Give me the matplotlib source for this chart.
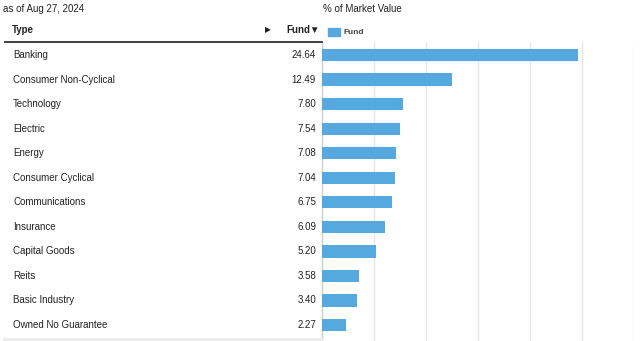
#!/usr/bin/env python3
"""Sector breakdown: % of market value by type"""

import matplotlib
matplotlib.use('Agg')
import matplotlib.pyplot as plt
import matplotlib.transforms as mtransforms
from matplotlib.patches import Rectangle
from matplotlib.lines import Line2D

plt.rcParams['font.family'] = ['Liberation Sans', 'DejaVu Sans']

types = ['Banking', 'Consumer Non-Cyclical', 'Technology', 'Electric', 'Energy',
         'Consumer Cyclical', 'Communications', 'Insurance', 'Capital Goods',
         'Reits', 'Basic Industry', 'Owned No Guarantee']
fund = [24.64, 12.49, 7.80, 7.54, 7.08, 7.04, 6.75, 6.09, 5.20, 3.58, 3.40, 2.27]
x_ticks = [0, 5, 10, 15, 20, 25, 30]

BAR = '#56a9de'
TXT = '#222222'

W, H = 640, 341
fig = plt.figure(figsize=(W / 100, H / 100), dpi=100)


def fx(px):
    return px / W


def fy(py):
    return 1 - py / H


ax = fig.add_axes([fx(322), 0, fx(634) - fx(322), fy(42)])
pos = list(range(len(types)))
ax.barh(pos, fund, height=0.5, color=BAR, zorder=3)
ax.set_xlim(0, 30)
ax.set_ylim(11.65, -0.53)
ax.set_xticks(x_ticks)
ax.set_yticks([])
ax.tick_params(axis='x', length=0, labelbottom=False)
ax.grid(axis='x', color='#e6e6e6', linewidth=1, zorder=0)
for s in ['top', 'right', 'bottom']:
    ax.spines[s].set_visible(False)
ax.spines['left'].set_color('#cfcfcf')
ax.spines['left'].set_linewidth(1)

# table rows aligned with bars
trans = mtransforms.blended_transform_factory(fig.transFigure, ax.transData)
for i, (name, val) in enumerate(zip(types, fund)):
    ax.text(fx(13), i, name, transform=trans, fontsize=7, color=TXT,
            va='center', ha='left', clip_on=False)
    ax.text(fx(316), i, f'{val:.2f}', transform=trans, fontsize=7, color=TXT,
            va='center', ha='right', clip_on=False)

# header
fig.text(fx(3), fy(9), 'as of Aug 27, 2024', fontsize=7, color=TXT, va='center')
fig.text(fx(323), fy(9), '% of Market Value', fontsize=7, color=TXT, va='center')
fig.text(fx(12), fy(30), 'Type', fontsize=7, fontweight='bold', color=TXT, va='center')
fig.text(fx(265), fy(30), '\u25b6', fontsize=5.5, color=TXT, va='center',
         family=['DejaVu Sans'])
fig.text(fx(320), fy(30), 'Fund\u25bc', fontsize=7, fontweight='bold', color=TXT,
         va='center', ha='right', family=['Liberation Sans', 'DejaVu Sans'])
fig.add_artist(Line2D([fx(5), fx(322)], [fy(42), fy(42)], color='#333333',
                      linewidth=1.3))
fig.add_artist(Line2D([fx(5), fx(321)], [fy(339.5), fy(339.5)], color='#ececec',
                      linewidth=3))

# legend
fig.add_artist(Rectangle((fx(328), fy(36)), fx(12), fy(28) - fy(36),
                         transform=fig.transFigure, color=BAR))
fig.text(fx(343), fy(32), 'Fund', fontsize=6, fontweight='bold', color='#444444',
         va='center')

fig.savefig('out.png', dpi=100)
